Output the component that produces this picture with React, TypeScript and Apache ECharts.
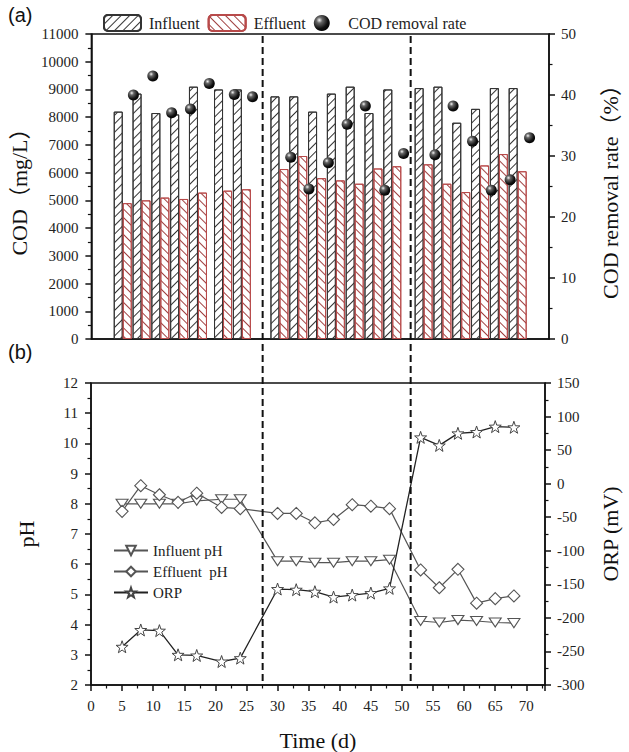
import React, { useEffect, useRef } from "react";
import * as echarts from "echarts";

const TIMES = [5, 8, 11, 14, 17, 21, 24, 30, 33, 36, 39, 42, 45, 48, 53, 56, 59, 62, 65, 68];
const INFLUENT_COD = [8200, 8850, 8150, 8100, 9100, 9000, 9000, 8750, 8750, 8200, 8850, 9100, 8150, 9000, 9050, 9100, 7800, 8300, 9050, 9050];
const EFFLUENT_COD = [4900, 5000, 5100, 5050, 5280, 5350, 5400, 6130, 6600, 5800, 5720, 5600, 6150, 6230, 6300, 5600, 5300, 6260, 6670, 6050];
const REMOVAL_TIMES = [6.7, 9.8, 12.8, 15.8, 18.8, 22.8, 25.7, 31.8, 34.7, 37.8, 40.8, 43.7, 46.8, 49.8, 54.8, 57.7, 60.8, 63.8, 66.8, 69.9];
const REMOVAL_RATE = [40.0, 43.1, 37.1, 37.7, 41.9, 40.1, 39.7, 29.8, 24.6, 28.9, 35.2, 38.2, 24.4, 30.4, 30.2, 38.2, 32.4, 24.4, 26.1, 33.0];
const INFLUENT_PH = [8.0, 8.0, 8.0, 8.0, 8.1, 8.15, 8.15, 6.1, 6.1, 6.05, 6.05, 6.1, 6.1, 6.15, 4.12, 4.07, 4.15, 4.12, 4.07, 4.05];
const EFFLUENT_PH = [7.75, 8.6, 8.3, 8.05, 8.35, 7.88, 7.84, 7.68, 7.68, 7.37, 7.48, 7.97, 7.92, 7.84, 5.81, 5.22, 5.83, 4.71, 4.86, 4.95];
const ORP = [-243, -218, -219, -255, -256, -265, -260, -157, -158, -161, -169, -166, -163, -156, 69, 57, 75, 77, 85, 84];
const STAGE_BOUNDARIES = [27.6, 51.4];

const SERIF = "Liberation Serif, Noto Sans CJK SC, serif";
const STAR = "path://M10,0 L12.35,6.76 L19.51,6.91 L13.8,11.24 L15.88,18.09 L10,14 L4.12,18.09 L6.2,11.24 L0.49,6.91 L7.65,6.76 Z";
const DOWN_TRI = "path://M0,0 L12,0 L6,9 Z";

const zip = (xs: number[], ys: number[]) => xs.map((x, i) => [x, ys[i]]);

export default function App() {
  const ref = useRef<HTMLDivElement>(null);
  useEffect(() => {
    if (!ref.current) return;
    const chart = echarts.init(ref.current, null, { renderer: "svg" });
    const axisLine = { show: true, onZero: false, lineStyle: { color: "#111", width: 1.5 } };
    const tickLabel = { fontFamily: SERIF, fontSize: 15, color: "#222", formatter: (v: number) => String(v) };
    const nameStyle = { fontFamily: SERIF, fontSize: 22, color: "#111" };
    const ticks = { show: true, inside: false, length: 6, lineStyle: { color: "#111", width: 1.5 } };
    const minor = { show: true, splitNumber: 2, length: 3.5, lineStyle: { color: "#111", width: 1.2 } };
    const sphere = {
      type: "radial", x: 0.35, y: 0.32, r: 0.75,
      colorStops: [
        { offset: 0, color: "#f4f4f4" },
        { offset: 0.25, color: "#666" },
        { offset: 0.7, color: "#111" },
        { offset: 1, color: "#000" },
      ],
    };
    const option: any = {
      animation: false,
      backgroundColor: "#fff",
      textStyle: { fontFamily: SERIF },
      grid: [
        { left: 91, top: 34, width: 464, height: 305, show: true, borderColor: "#111", borderWidth: 1.5, backgroundColor: "transparent" },
        { left: 91, top: 383, width: 464, height: 302, show: true, borderColor: "#111", borderWidth: 1.5, backgroundColor: "transparent" },
      ],
      legend: [
        {
          left: 98, top: 9, itemWidth: 37, itemHeight: 16, itemGap: 8,
          textStyle: { fontFamily: SERIF, fontSize: 16, color: "#222", padding: [0, 0, 0, 3] },
          data: ["Influent", "Effluent", { name: "COD removal rate", icon: "circle" }],
        },
        {
          left: 108, top: 538, orient: "vertical", itemWidth: 34, itemHeight: 12, itemGap: 6,
          textStyle: { fontFamily: SERIF, fontSize: 15, color: "#222" },
          data: ["Influent pH", "Effluent  pH", "ORP"],
        },
      ],
      xAxis: [
        {
          type: "value", gridIndex: 0, min: 0, max: 73, interval: 5,
          axisLine, axisTick: { show: false }, axisLabel: { show: false }, splitLine: { show: false },
        },
        {
          type: "value", gridIndex: 1, min: 0, max: 73, interval: 5,
          axisLine, axisTick: ticks, minorTick: minor,
          axisLabel: { ...tickLabel, margin: 13, showMaxLabel: false },
          splitLine: { show: false },
          name: "Time (d)", nameLocation: "middle", nameGap: 44, nameTextStyle: nameStyle,
        },
      ],
      yAxis: [
        {
          type: "value", gridIndex: 0, min: 0, max: 11000, interval: 1000, position: "left",
          axisLine, axisTick: ticks, minorTick: minor, axisLabel: { ...tickLabel, margin: 13 },
          splitLine: { show: false },
          name: "COD（mg/L）", nameLocation: "middle", nameGap: 56, nameTextStyle: nameStyle,
        },
        {
          type: "value", gridIndex: 0, min: 0, max: 50, interval: 10, position: "right",
          axisLine, axisTick: ticks, minorTick: minor, axisLabel: { ...tickLabel, margin: 12 },
          splitLine: { show: false },
          name: "COD removal rate（%）", nameLocation: "middle", nameGap: 50, nameTextStyle: nameStyle,
        },
        {
          type: "value", gridIndex: 1, min: 2, max: 12, interval: 1, position: "left",
          axisLine, axisTick: ticks, minorTick: minor, axisLabel: { ...tickLabel, margin: 13 },
          splitLine: { show: false },
          name: "pH", nameLocation: "middle", nameGap: 54, nameTextStyle: nameStyle,
        },
        {
          type: "value", gridIndex: 1, min: -300, max: 150, interval: 50, position: "right",
          axisLine, axisTick: ticks, minorTick: minor, axisLabel: { ...tickLabel, margin: 12 },
          splitLine: { show: false },
          name: "ORP (mV)", nameLocation: "middle", nameGap: 54, nameTextStyle: nameStyle,
        },
      ],
      series: [
        {
          name: "Influent", type: "bar", xAxisIndex: 0, yAxisIndex: 0, barWidth: 9, barGap: "0%",
          data: zip(TIMES, INFLUENT_COD),
          itemStyle: {
            color: "#fff", borderColor: "#333", borderWidth: 1,
            decal: { symbol: "rect", symbolSize: 1, dashArrayX: [1, 0], dashArrayY: [1, 5], rotation: -Math.PI / 4, color: "#333" },
          },
        },
        {
          name: "Effluent", type: "bar", xAxisIndex: 0, yAxisIndex: 0, barWidth: 9, barGap: "0%",
          data: zip(TIMES, EFFLUENT_COD),
          itemStyle: {
            color: "#fff", borderColor: "#b84a4a", borderWidth: 1,
            decal: { symbol: "rect", symbolSize: 1, dashArrayX: [1, 0], dashArrayY: [1, 5], rotation: Math.PI / 4, color: "#a04040" },
          },
        },
        {
          name: "COD removal rate", type: "scatter", xAxisIndex: 0, yAxisIndex: 1,
          data: zip(REMOVAL_TIMES, REMOVAL_RATE), symbolSize: 11,
          itemStyle: { color: sphere, opacity: 1 },
          z: 5,
        },
        {
          name: "Influent pH", type: "line", xAxisIndex: 1, yAxisIndex: 2,
          data: zip(TIMES, INFLUENT_PH), symbol: DOWN_TRI, symbolSize: [12, 9], showAllSymbol: true,
          lineStyle: { color: "#555", width: 1.2 },
          itemStyle: { color: "#fff", borderColor: "#555", borderWidth: 1.1 },
        },
        {
          name: "Effluent  pH", type: "line", xAxisIndex: 1, yAxisIndex: 2,
          data: zip(TIMES, EFFLUENT_PH), symbol: "diamond", symbolSize: 12, showAllSymbol: true,
          lineStyle: { color: "#555", width: 1.2 },
          itemStyle: { color: "#fff", borderColor: "#555", borderWidth: 1.1 },
        },
        {
          name: "ORP", type: "line", xAxisIndex: 1, yAxisIndex: 3,
          data: zip(TIMES, ORP), symbol: STAR, symbolSize: 12, showAllSymbol: true,
          lineStyle: { color: "#222", width: 1.3 },
          itemStyle: { color: "#fff", borderColor: "#444", borderWidth: 1 },
        },
      ],
    };
    chart.setOption(option);

    const yTop = chart.convertToPixel({ yAxisIndex: 0 }, 11000) as number;
    const yBottom = chart.convertToPixel({ yAxisIndex: 2 }, 2) as number;
    const graphics: any[] = STAGE_BOUNDARIES.map((t) => {
      const x = chart.convertToPixel({ xAxisIndex: 1 }, t) as number;
      return {
        type: "line", silent: true, z: 10,
        shape: { x1: x, y1: yTop + 2, x2: x, y2: yBottom - 2 },
        style: { stroke: "#111", lineWidth: 2, lineDash: [7, 4] },
      };
    });
    graphics.push(
      { type: "text", left: 8, top: 5, style: { text: "(a)", fontSize: 20, fontFamily: "Liberation Sans, Arial, sans-serif", fill: "#111" } },
      { type: "text", left: 8, top: 342, style: { text: "(b)", fontSize: 20, fontFamily: "Liberation Sans, Arial, sans-serif", fill: "#111" } }
    );
    chart.setOption({ graphic: graphics });

    return () => chart.dispose();
  }, []);
  return <div ref={ref} style={{ position: "fixed", left: 0, top: 0, width: 629, height: 752, background: "#fff" }} />;
}
